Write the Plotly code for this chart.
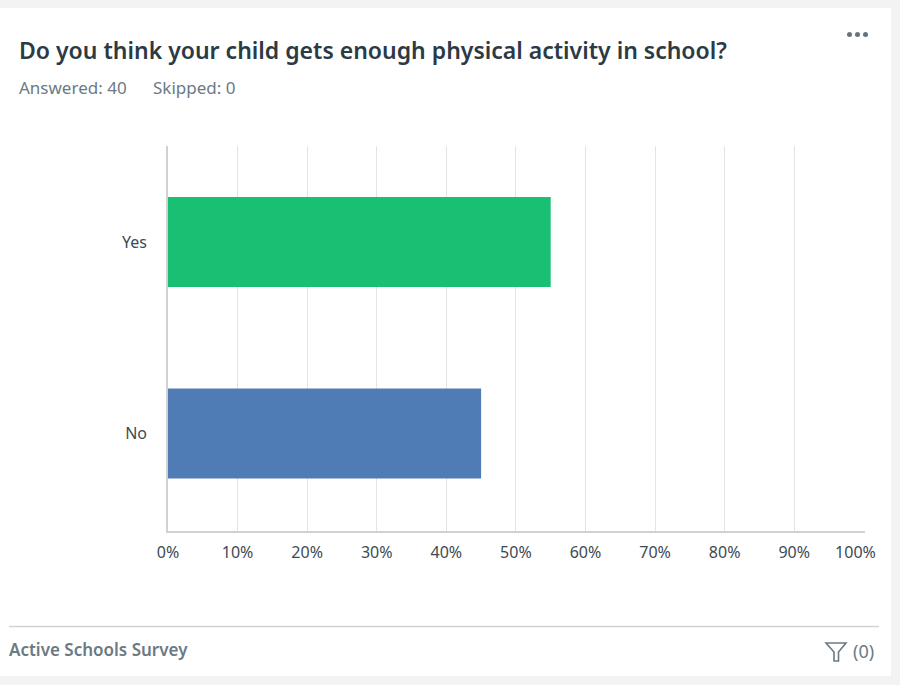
import plotly.graph_objects as go

categories = ["Yes", "No"]
percent_values = [55, 45]
bar_colors = ["#19c073", "#507cb6"]
x_ticks = list(range(0, 101, 10))
x_tick_labels = [f"{v}%" for v in x_ticks[:-1]] + ["100%\u00a0\u00a0\u00a0\u00a0"]

title_text = "Do you think your child gets enough physical activity in school?"
answered_text = "Answered: 40"
skipped_text = "Skipped: 0"
footer_text = "Active Schools Survey"
filter_text = "(0)"

W, H = 900, 685
FONT = "Noto Sans"


def px(x):
    return x / W


def py(y):
    return 1 - y / H


fig = go.Figure(
    go.Bar(
        x=percent_values,
        y=categories,
        orientation="h",
        marker=dict(color=bar_colors, line=dict(width=0)),
        hoverinfo="skip",
    )
)


def label(x, y, text, size, color, anchor="left", weight=None):
    fig.add_annotation(
        x=px(x), y=py(y), xref="paper", yref="paper", text=text, showarrow=False,
        xanchor=anchor, yanchor="middle", align=anchor, borderpad=0,
        font=dict(family=FONT, size=size, color=color, weight=weight),
    )


label(18, 50, title_text, 23, "#2b3a45", weight=600)
label(18, 88, answered_text, 17, "#6b7a84")
label(152, 88, skipped_text, 17, "#6b7a84")
label(8, 649.5, footer_text, 17, "#6b7a84", weight=600)
label(875, 651, filter_text, 18, "#6b7a84", anchor="right")

shapes = [
    # white card
    dict(type="rect", xref="paper", yref="paper", x0=px(0), x1=px(891), y0=py(8), y1=py(676),
         fillcolor="white", line=dict(width=0), layer="below"),
    # footer divider
    dict(type="line", xref="paper", yref="paper", x0=px(9), x1=px(879), y0=py(626.5), y1=py(626.5),
         line=dict(color="#d0d2d3", width=1.5)),
    # filter icon
    dict(type="path", xref="paper", yref="paper",
         path=f"M {px(826)} {py(643)} L {px(846)} {py(643)} L {px(838.5)} {py(652)} "
              f"L {px(838.5)} {py(661)} L {px(834)} {py(661)} L {px(834)} {py(652)} Z",
         fillcolor="rgba(0,0,0,0)", line=dict(color="#6b7a84", width=1.6)),
]
# menu dots
for cx in (849.5, 857.5, 865.5):
    shapes.append(dict(type="circle", xref="paper", yref="paper",
                       x0=px(cx - 2.5), x1=px(cx + 2.5), y0=py(37), y1=py(32),
                       fillcolor="#647480", line=dict(width=0)))

fig.update_layout(
    width=W, height=H, margin=dict(l=0, r=0, t=0, b=0),
    paper_bgcolor="#f3f3f3", plot_bgcolor="white", showlegend=False,
    bargap=0.53, shapes=shapes,
    font=dict(family=FONT, size=16, color="#3d4a54"),
    xaxis=dict(
        domain=[px(168), px(864.5)], range=[0, 100.1], tickvals=x_ticks, ticktext=x_tick_labels,
        showgrid=True, gridcolor="#e2e4e4", gridwidth=1, zeroline=False,
        showline=True, linecolor="#cfd1d2", linewidth=1.5,
        ticks="outside", ticklen=6, tickcolor="rgba(0,0,0,0)", automargin=False,
        fixedrange=True,
    ),
    yaxis=dict(
        domain=[py(531), py(146)], range=[1.509, -0.501], showgrid=False, zeroline=False,
        showline=True, linecolor="#cfd1d2", linewidth=1.5,
        ticks="outside", ticklen=16, tickcolor="rgba(0,0,0,0)", automargin=False,
        fixedrange=True,
    ),
)

fig.write_html("out.html", config={"displayModeBar": False},
               post_script="document.body.style.margin='0';document.documentElement.style.overflow='hidden';")
